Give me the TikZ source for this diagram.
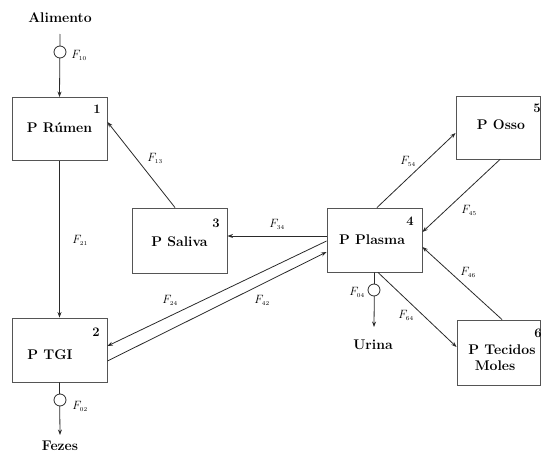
\documentclass[tikz,border=0pt]{standalone}
\usetikzlibrary{arrows.meta}
\definecolor{ln}{HTML}{2A2A2A}
\definecolor{bx}{HTML}{555555}
\newcommand{\flux}[1]{$F_{\scriptscriptstyle #1}$}
\begin{document}
\begin{tikzpicture}[x=1pt,y=-1pt,
  box/.style={draw=bx,line width=0.9pt,inner sep=0pt},
  txt/.style={font=\fontsize{14}{16}\selectfont\bfseries,inner sep=0pt,align=center},
  num/.style={font=\fontsize{13}{15}\selectfont\bfseries,inner sep=0pt},
  fl/.style={font=\fontsize{12.5}{14}\selectfont,inner sep=0pt},
  con/.style={draw=ln,line width=0.8pt},
  arr/.style={con,-{Stealth[length=5.5pt,width=4pt]}},
  valve/.style={circle,draw=ln,line width=0.8pt,fill=white,minimum size=12pt,inner sep=0pt}]
\useasboundingbox (0,0) rectangle (543,455);
% boxes
\node[box,minimum width=95pt,minimum height=63pt] (b1) at (59.5,129) {};
\node[box,minimum width=95pt,minimum height=64pt] (b2) at (59.5,350) {};
\node[box,minimum width=95pt,minimum height=65pt] (b3) at (179.5,240.5) {};
\node[box,minimum width=95pt,minimum height=64pt] (b4) at (374.5,240) {};
\node[box,minimum width=84pt,minimum height=63pt] (b5) at (498,127.5) {};
\node[box,minimum width=83pt,minimum height=65pt] (b6) at (498.5,352.5) {};
% texts
\node[txt] (t1) at (59.5,128) {P R\'umen};
\node[txt] (t2) at (50,355) {P TGI};
\node[txt] (t3) at (179.5,242) {P Saliva};
\node[txt] (t4) at (372,240) {P Plasma};
\node[txt] (t5) at (501,125) {P Osso};
\node[txt,align=left] (t6) at (502,358) {P Tecidos\\\hspace*{0.45em}Moles};
\node[num] (n1) at (97,109) {1};
\node[num] (n2) at (96,332) {2};
\node[num] (n3) at (216,223) {3};
\node[num] (n4) at (410,221) {4};
\node[num] (n5) at (537,108) {5};
\node[num] (n6) at (538,333) {6};
% external
\node[txt] (ali) at (60,18) {Alimento};
\node[txt] (fez) at (60,446) {Fezes};
\node[txt] (uri) at (373,345) {Urina};
\coordinate (ali0) at (60,34);
\coordinate (fez0) at (60,435);
\coordinate (uri0) at (374,327);
% flows
\draw[arr] (ali0) -- (b1.north);
\node[valve] (v10) at (60,52) {};
\draw[arr] (b2.south) -- (fez0);
\node[valve] (v02) at (60,400) {};
\draw[arr] (b4.south) -- (uri0);
\node[valve] (v04) at (374,290) {};
\draw[arr] (b1.south) -- (b2.north);
\draw[arr] ([xshift=-4.5pt]b3.north) -- ([yshift=7pt]b1.east);
\draw[arr] ([yshift=4pt]b4.west) -- ([yshift=4.5pt]b3.east);
\draw[arr] ([yshift=-1pt]b4.west) -- ([yshift=4pt]b2.east);
\draw[arr] ([yshift=-11pt]b2.east) -- ([yshift=-12pt]b4.west);
\draw[arr] ([xshift=2.5pt]b4.north) -- ([yshift=-5.5pt]b5.west);
\draw[arr] ([xshift=2pt]b5.south) -- ([yshift=8pt]b4.east);
\draw[arr] ([xshift=3.5pt]b6.north) -- ([yshift=-7pt]b4.east);
\draw[arr] ([xshift=3.5pt]b4.south) -- ([yshift=5.5pt]b6.west);
% flux labels
\node[fl] (f10) at (79,55) {\flux{10}};
\node[fl] (f02) at (80,406) {\flux{02}};
\node[fl] (f04) at (357,292) {\flux{04}};
\node[fl] (f21) at (80,240) {\flux{21}};
\node[fl] (f13) at (155,158) {\flux{13}};
\node[fl] (f34) at (277,224) {\flux{34}};
\node[fl] (f24) at (170,300) {\flux{24}};
\node[fl] (f42) at (262,300) {\flux{42}};
\node[fl] (f54) at (408,161) {\flux{54}};
\node[fl] (f45) at (469,210) {\flux{45}};
\node[fl] (f46) at (468,272) {\flux{46}};
\node[fl] (f64) at (406,315) {\flux{64}};
\end{tikzpicture}
\end{document}
